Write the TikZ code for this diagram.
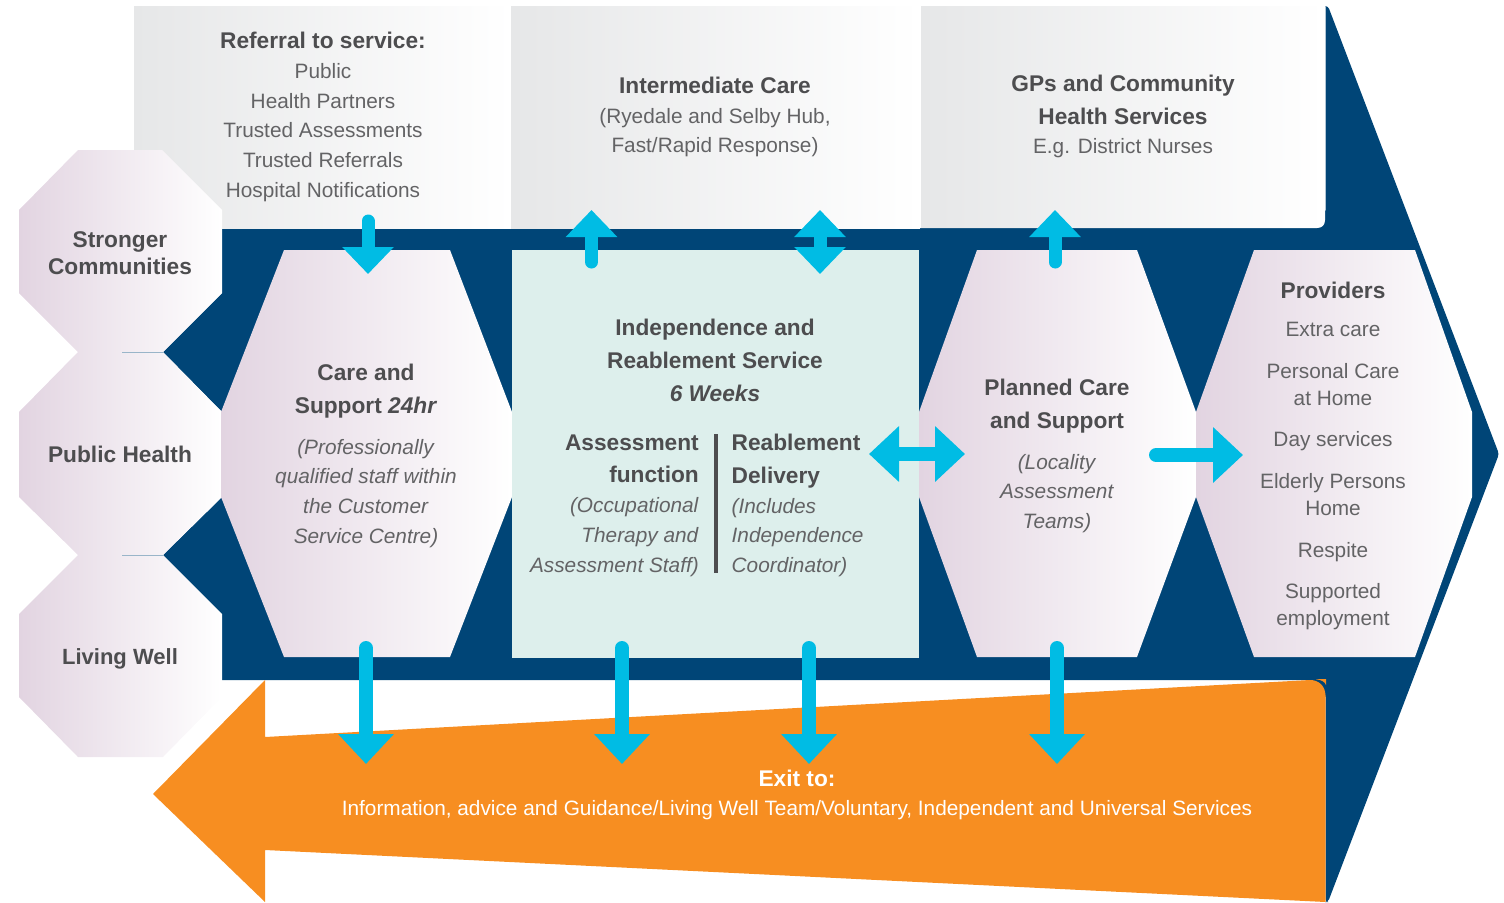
\documentclass[tikz,border=0pt]{standalone}
\usepackage{fontspec}
\setmainfont{Liberation Sans}
\usetikzlibrary{arrows.meta}
\definecolor{navy}{HTML}{004577}
\definecolor{orng}{HTML}{F78E21}
\definecolor{cyanb}{HTML}{00BCE4}
\definecolor{teal}{HTML}{DDEFEC}
\definecolor{mauve}{HTML}{E2D4E1}
\definecolor{greyb}{HTML}{E6E7E8}
\definecolor{txtb}{HTML}{4D4D4F}
\definecolor{txtl}{HTML}{636365}
\tikzset{
  x=1pt,y=-1pt,
  mauvefill/.style={left color=mauve,right color=white,draw=none},
  greyfill/.style={left color=greyb,right color=white,draw=none},
  body/.style={inner sep=0pt,align=center,text=txtl,font=\fontsize{20.8}{29.7}\selectfont},
  flow/.style={cyanb,line width=13pt,line cap=round},
  vtip/.style={-{Triangle[width=50pt,length=27pt]}},
  vboth/.style={{Triangle[width=50pt,length=27pt]}-{Triangle[width=50pt,length=27pt]}},
  dtip/.style={line width=14pt,-{Triangle[width=54pt,length=30pt]}},
  htip/.style={line width=14pt,-{Triangle[width=54pt,length=30pt]}},
  hboth/.style={line width=14pt,{Triangle[width=54pt,length=30pt]}-{Triangle[width=54pt,length=30pt]}},
}
\newcommand{\hb}[1]{{\fontsize{22.7}{\the\baselineskip}\selectfont\bfseries\color{txtb}#1}}
\begin{document}
\begin{tikzpicture}
\useasboundingbox (0,0) rectangle (1504,902);
% big blue arrow
\fill[navy,rounded corners=3pt] (1325.5,6) -- (1328,6) -- (1499,454) -- (1328,902) -- (1325.5,902) [sharp corners] -- (1325.5,680) -- (222,680) -- (222,228) -- (1325.5,228) -- cycle;
\fill[navy] (222,293) -- (163,352) -- (222,412) -- cycle;
\fill[navy] (222,497) -- (163,555) -- (222,614) -- cycle;
\fill[navy] (1308,228.5) -- (1326,228.5) -- (1326,210) -- cycle;
% grey boxes
\shade[greyfill] (134,6) rectangle (511,228);
\shade[greyfill] (511,6) rectangle (920,228);
\shade[greyfill] (921,6) -- (1325,6) -- (1325,220) .. controls (1325,225) and (1322,228) .. (1317,228) -- (921,228) -- cycle;
% orange arrow
\fill[navy] (1308,680) -- (1326,680) -- (1326,697) -- cycle;
\fill[orng] (1316,679.2) -- (1326,679) -- (1326,685) .. controls (1325,682) and (1322,680) .. (1316,679.2) -- cycle;
\fill[orng] (153,794) -- (265,680) -- (265,737) -- (1310,680) .. controls (1319,680) and (1325,686) .. (1325.5,695) -- (1325.5,902) -- (265,850) -- (265,902) -- cycle;
% octagons
\shade[mauvefill] (78,150) -- (162,150) -- (222,210) -- (222,293) -- (163,352) -- (78,352) -- (19,293) -- (19,210) -- cycle;
\shade[mauvefill] (78,352) -- (163,352) -- (222,412) -- (222,497) -- (163,555) -- (78,555) -- (19,497) -- (19,412) -- cycle;
\shade[mauvefill] (78,555) -- (163,555) -- (222,614) -- (222,697) -- (163,757) -- (78,757) -- (19,697) -- (19,614) -- cycle;
\draw[color=navy!40,line width=.6pt] (122,352.3) -- (163,352.3);
\draw[color=navy!40,line width=.6pt] (122,555.3) -- (163,555.3);
% hexagons and teal box
\shade[mauvefill] (284,250) -- (450,250) -- (512,412) -- (512,497) -- (450,657) -- (284,657) -- (221,497) -- (221,412) -- cycle;
\fill[teal] (512,250) rectangle (919,658);
\shade[mauvefill] (977,250) -- (1137,250) -- (1196,412) -- (1196,497) -- (1137,657) -- (977,657) -- (919,497) -- (919,412) -- cycle;
\shade[mauvefill] (1254,250) -- (1415,250) -- (1472,412) -- (1472,497) -- (1415,657) -- (1254,657) -- (1196,497) -- (1196,412) -- cycle;
% separator
\coordinate (sepT) at (715.5,434);
\coordinate (sepB) at (715.5,573);
\draw[txtb,line width=4pt] (sepT) -- (sepB);
% text
\node[body] (referral) at (323,117) {\hb{Referral to service:}\\Public\\Health Partners\\Trusted Assessments\\Trusted Referrals\\Hospital Notifications};
\node[body] (intermediate) at (715,117) {\hb{Intermediate Care}\\(Ryedale and Selby Hub,\\Fast/Rapid Response)};
\node[body] (gps) at (1123,116.5) {\hb{GPs and Community}\\[3pt]\hb{Health Services}\\E.g. District Nurses};
\node[body,font=\fontsize{20.8}{27}\selectfont] (stronger) at (120,253) {\hb{Stronger}\\\hb{Communities}};
\node[body] (publichealth) at (120,454) {\hb{Public Health}};
\node[body] (livingwell) at (120,659) {{\fontsize{22}{29.7}\selectfont\bfseries\color{txtb}Living Well}};
\node[body] (care) at (366,456) {\hb{Care and}\\[3pt]\hb{Support \textit{24hr}}\\[11pt]\textit{(Professionally}\\\textit{qualified staff within}\\\textit{the Customer}\\\textit{Service Centre)}};
\node[body] (indep) at (715,360.5) {\hb{Independence and}\\[3pt]\hb{Reablement Service}\\[3pt]\hb{\textit{6 Weeks}}};
\node[body,align=right,anchor=east] (assess) at (699,505.5) {\hb{Assessment}\\[3pt]\hb{function}\\\textit{(Occupational}\\\textit{Therapy and}\\\textit{Assessment Staff)}};
\node[body,align=left,anchor=west] (reable) at (731.5,505.5) {\hb{Reablement}\\[3pt]\hb{Delivery}\\\textit{(Includes}\\\textit{Independence}\\\textit{Coordinator)}};
\node[body] (planned) at (1057,456) {\hb{Planned Care}\\[3pt]\hb{and Support}\\[11pt]\textit{(Locality}\\\textit{Assessment}\\\textit{Teams)}};
\node[body,font=\fontsize{20.8}{27}\selectfont] (providers) at (1333,455.5) {\hb{Providers}\\[11pt]Extra care\\[15pt]Personal Care\\at Home\\[14pt]Day services\\[15pt]Elderly Persons\\Home\\[15pt]Respite\\[14pt]Supported\\employment};
\node[body,text=white] (exit) at (797,795) {{\fontsize{22.7}{29.7}\selectfont\textbf{Exit to:}}\\Information, advice and Guidance/Living Well Team/Voluntary, Independent and Universal Services};
% arrows
\coordinate (a1s) at (368,221); \coordinate (a1e) at (368,274);
\coordinate (a2s) at (591.5,262); \coordinate (a2e) at (591.5,210);
\coordinate (a3s) at (820,210); \coordinate (a3e) at (820,274);
\coordinate (a4s) at (1055,262); \coordinate (a4e) at (1055,210);
\coordinate (a5s) at (869,454); \coordinate (a5e) at (965,454);
\coordinate (a6s) at (1156,455); \coordinate (a6e) at (1243,455);
\coordinate (d1s) at (366,648); \coordinate (d1e) at (366,764);
\coordinate (d2s) at (622,648); \coordinate (d2e) at (622,764);
\coordinate (d3s) at (809,648); \coordinate (d3e) at (809,764);
\coordinate (d4s) at (1057,648); \coordinate (d4e) at (1057,764);
\draw[flow,vtip] (a1s) -- (a1e);
\draw[flow,vtip] (a2s) -- (a2e);
\draw[flow,vboth] (a3s) -- (a3e);
\draw[flow,vtip] (a4s) -- (a4e);
\draw[flow,hboth] (a5s) -- (a5e);
\draw[flow,htip] (a6s) -- (a6e);
\draw[flow,dtip] (d1s) -- (d1e);
\draw[flow,dtip] (d2s) -- (d2e);
\draw[flow,dtip] (d3s) -- (d3e);
\draw[flow,dtip] (d4s) -- (d4e);
\end{tikzpicture}
\end{document}
